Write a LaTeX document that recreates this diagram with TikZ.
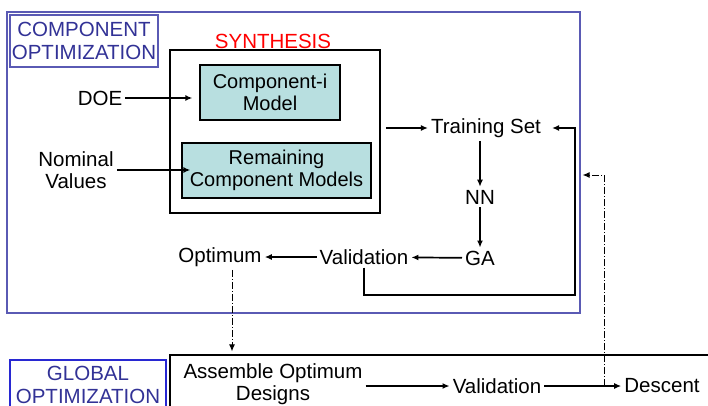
\documentclass[tikz,border=0pt]{standalone}
\usepackage{fontspec}
\setmainfont{Liberation Sans}
\usetikzlibrary{arrows.meta}

\definecolor{frameblue}{RGB}{90,90,180}
\definecolor{titleblue}{RGB}{50,50,150}
\definecolor{globalblue}{RGB}{40,40,210}
\definecolor{modelfill}{RGB}{184,223,224}

\tikzset{
  lbl/.style={inner sep=3pt, align=center, font=\fontsize{20.5}{22}\selectfont},
  titlebox/.style={draw, line width=1.3pt, text=titleblue, align=center, inner sep=0pt, font=\fontsize{20.5}{23}\selectfont},
  modelbox/.style={draw, line width=1.3pt, fill=modelfill, align=center, inner sep=0pt, font=\fontsize{20}{22}\selectfont},
  arr/.style={-{Latex[length=7pt,width=6pt]}, line width=1.7pt},
  dasharr/.style={-{Latex[length=7pt,width=6pt]}, line width=0.9pt, dash pattern=on 7pt off 2pt on 1pt off 2pt}
}

\begin{document}
\begin{tikzpicture}[x=1pt,y=-1pt]
    \clip (0,0) rectangle (708,406);

    % Component optimization frame
    \node (compframe) at (293.5,162.5) [draw=frameblue, line width=1.3pt, minimum width=573pt, minimum height=301pt] {};
    \node (comptitle) at (84,41) [titlebox, draw=frameblue, minimum width=148pt, minimum height=52pt] {COMPONENT\\OPTIMIZATION};

    % Synthesis block
    \node (synth) at (275,131.5) [draw, line width=1.5pt, minimum width=210pt, minimum height=163pt] {};
    \node (synthlabel) at (273,41) [lbl, text=red] {SYNTHESIS};
    \node (compi) at (270,92.5) [modelbox, minimum width=140pt, minimum height=55pt] {Component-i\\Model};
    \node (remaining) at (276.5,170.5) [modelbox, minimum width=189pt, minimum height=55pt] {Remaining\\Component Models};

    % Inputs
    \node (doe) at (100,98) [lbl] {DOE};
    \node (nominal) at (76,170) [lbl] {Nominal\\Values};

    % Surrogate loop
    \node (training) at (486,128) [lbl] {Training Set};
    \node (nn) at (480,197) [lbl] {NN};
    \node (ga) at (480,258) [lbl] {GA};
    \node (valid) at (364,257) [lbl] {Validation};
    \node (optimum) at (220,257) [lbl] {Optimum};
    \coordinate (fbcorner) at (575,295);

    % Global optimization
    \node (globaltitle) at (88,385) [titlebox, draw=globalblue, minimum width=156pt, minimum height=50pt] {GLOBAL\\OPTIMIZATION};
    \node (globalframe) at (450,385) [draw, line width=1.3pt, minimum width=560pt, minimum height=60pt] {};
    \node (assemble) at (273,384) [lbl] {Assemble Optimum\\Designs};
    \node (gvalid) at (497,386) [lbl] {Validation};
    \node (descent) at (662,386) [lbl] {Descent};
    \coordinate (retcorner) at (604,175);

    % Draw arrows
    \draw[arr] (doe) -- ([xshift=-7pt]doe -| compi.west);
    \draw[arr] (nominal) -- ([xshift=9pt]nominal -| remaining.west);
    \draw[arr] ([xshift=5pt]synth.east |- training) -- (training);
    \draw[arr] (nn |- training.south) -- (nn);
    \draw[arr] (nn) -- (ga);
    \draw[arr] (ga) -- (valid);
    \draw[arr] (valid) -- (optimum);
    \draw[arr] (valid.south) |- (fbcorner) |- ([xshift=8pt]training.east);
    \draw[dasharr] ([xshift=12pt]optimum.south) -- ([xshift=12pt,yshift=3pt]optimum.south |- globalframe.north);
    \draw[arr] (assemble.east |- gvalid) -- (gvalid);
    \draw[arr] (gvalid) -- (descent);
    \draw[dasharr] (retcorner |- descent) -- (retcorner) -- ([xshift=2pt]compframe.east |- retcorner);
\end{tikzpicture}
\end{document}
